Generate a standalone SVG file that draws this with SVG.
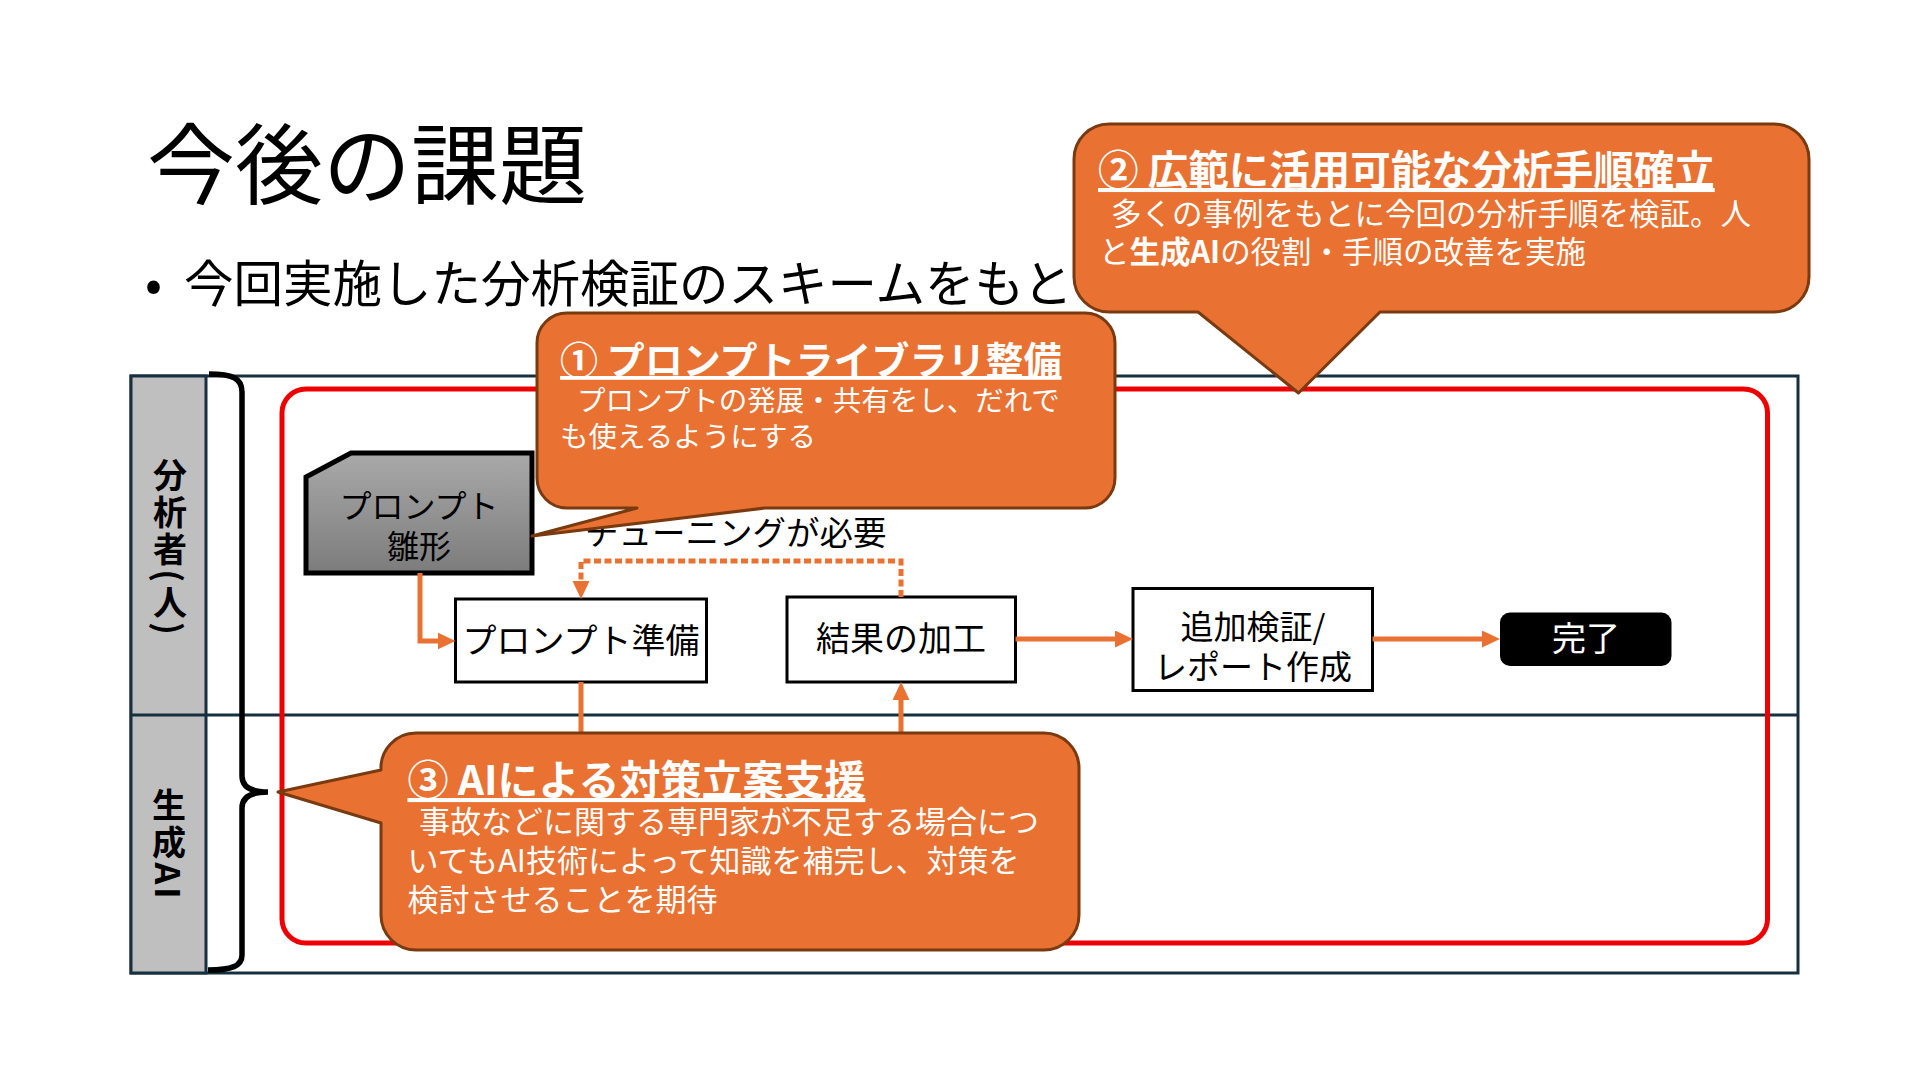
<svg xmlns="http://www.w3.org/2000/svg" width="1920" height="1080" viewBox="0 0 1920 1080">
<defs>
<style>
text{font-family:"Noto Sans CJK JP","Noto Sans",sans-serif;fill:#000}
.box{fill:#fff;stroke:#000;stroke-width:3}
.lbl{font-size:34px;text-anchor:middle}
.conn{fill:none;stroke:#E97132;stroke-width:5}
.dot{stroke-dasharray:7 3.5}
.call{fill:#E97132;stroke:#7A3A10;stroke-width:3;stroke-linejoin:round}
.ct{fill:#fff;font-weight:bold;text-decoration:underline}
.cb{fill:#fff}
.lane{font-size:34px;font-weight:bold;text-anchor:middle;writing-mode:vertical-rl}
</style>
<linearGradient id="gray" x1="0" y1="0" x2="0" y2="1">
<stop offset="0" stop-color="#A9A9A9"/>
<stop offset="1" stop-color="#7C7C7C"/>
</linearGradient>
<marker id="arr" markerUnits="userSpaceOnUse" markerWidth="20" markerHeight="18" refX="10" refY="8.5" orient="auto">
<path d="M0,0 L18,8.5 L0,17 Z" fill="#E97132"/>
</marker>
</defs>
<rect width="1920" height="1080" fill="#fff"/>

<g id="title">
<text x="147" y="197" font-size="88">今後の課題</text>
<text x="145" y="302" font-size="50">•</text>
<text x="184" y="302" font-size="49.5">今回実施した分析検証のスキームをもと</text>
</g>

<g id="frame">
<rect x="131" y="376" width="1667" height="597" fill="none" stroke="#17303F" stroke-width="3"/>
<rect x="131" y="376" width="75" height="597" fill="#BFBFBF" stroke="#17303F" stroke-width="3"/>
<line x1="131" y1="715" x2="1798" y2="715" stroke="#17303F" stroke-width="3"/>
<text class="lane" x="170" y="548" letter-spacing="3">分析者(人)</text>
<text class="lane" x="169" y="845" letter-spacing="3">生成AI</text>
<path d="M209,374 C232,374 242,378 242,392 V776 C242,786 250,792 268,792 C250,792 242,798 242,808 V955 C242,966 232,970 208,970" fill="none" stroke="#000" stroke-width="5.5"/>
<rect x="282" y="389" width="1485.5" height="554" rx="24" fill="none" stroke="#EE0000" stroke-width="5"/>
</g>

<g id="node-template">
<path d="M351,453 H532 V573 H306 V477 Z" fill="url(#gray)" stroke="#000" stroke-width="5" stroke-linejoin="miter"/>
<text x="419" y="518" font-size="32" text-anchor="middle">プロンプト</text>
<text x="419" y="558" font-size="32" text-anchor="middle">雛形</text>
</g>

<g id="node-prep">
<rect class="box" x="455.5" y="599" width="251" height="83"/>
<text class="lbl" x="581" y="653">プロンプト準備</text>
</g>

<g id="node-process">
<rect class="box" x="787" y="597" width="228.5" height="85"/>
<text class="lbl" x="901" y="651">結果の加工</text>
</g>

<g id="node-verify">
<rect class="box" x="1133" y="588.5" width="239.5" height="102"/>
<text class="lbl" x="1253" y="639" style="font-size:33px">追加検証/</text>
<text class="lbl" x="1253" y="679" style="font-size:33px">レポート作成</text>
</g>

<g id="node-done">
<rect x="1500" y="612.5" width="171.5" height="53.5" rx="10" fill="#000"/>
<text class="lbl" x="1586" y="651" style="fill:#fff">完了</text>
</g>

<g id="label-tuning">
<text x="585" y="545" font-size="33.5">チューニングが必要</text>
</g>

<g id="connectors">
<path class="conn" d="M420,573 V641 H447.5" marker-end="url(#arr)"/>
<path class="conn dot" d="M901,597 V561 H581 V591" marker-end="url(#arr)"/>
<path class="conn" d="M581,682 V745"/>
<path class="conn" d="M901,745 V690" marker-end="url(#arr)"/>
<path class="conn" d="M1015.5,639 H1125" marker-end="url(#arr)"/>
<path class="conn" d="M1372.5,639 H1492" marker-end="url(#arr)"/>
</g>

<g id="callout-1">
<path class="call" d="M567,313 H1085 A30,30 0 0 1 1115,343 V478 A30,30 0 0 1 1085,508 H765 L532,536 L637,508 H567 A30,30 0 0 1 537,478 V343 A30,30 0 0 1 567,313 Z"/>
<text class="ct" x="560" y="374" font-size="38">① プロンプトライブラリ整備</text>
<text class="cb" x="577" y="411" font-size="28.5">プロンプトの発展・共有をし、だれで</text>
<text class="cb" x="560" y="447" font-size="28.5">も使えるようにする</text>
</g>

<g id="callout-2">
<path class="call" d="M1109,124 H1774 A35,35 0 0 1 1809,159 V277 A35,35 0 0 1 1774,312 H1380 L1298.5,393 L1198,312 H1109 A35,35 0 0 1 1074,277 V159 A35,35 0 0 1 1109,124 Z"/>
<text class="ct" x="1098" y="185" font-size="40.5">② 広範に活用可能な分析手順確立</text>
<text class="cb" x="1111" y="225" font-size="30.5">多くの事例をもとに今回の分析手順を検証。人</text>
<text class="cb" x="1099" y="263" font-size="30.5">と<tspan font-weight="bold">生成AI</tspan>の役割・手順の改善を実施</text>
</g>

<g id="callout-3">
<path class="call" d="M416,733 H1044 A35,35 0 0 1 1079,768 V915 A35,35 0 0 1 1044,950 H416 A35,35 0 0 1 381,915 V823 L278,792 L381,770 A35,35 0 0 1 416,733 Z"/>
<text class="ct" x="407.5" y="795" font-size="41">③ AIによる対策立案支援</text>
<text class="cb" x="419" y="833" font-size="31">事故などに関する専門家が不足する場合につ</text>
<text class="cb" x="407.5" y="872" font-size="31">いてもAI技術によって知識を補完し、対策を</text>
<text class="cb" x="407.5" y="911" font-size="31">検討させることを期待</text>
</g>
</svg>
